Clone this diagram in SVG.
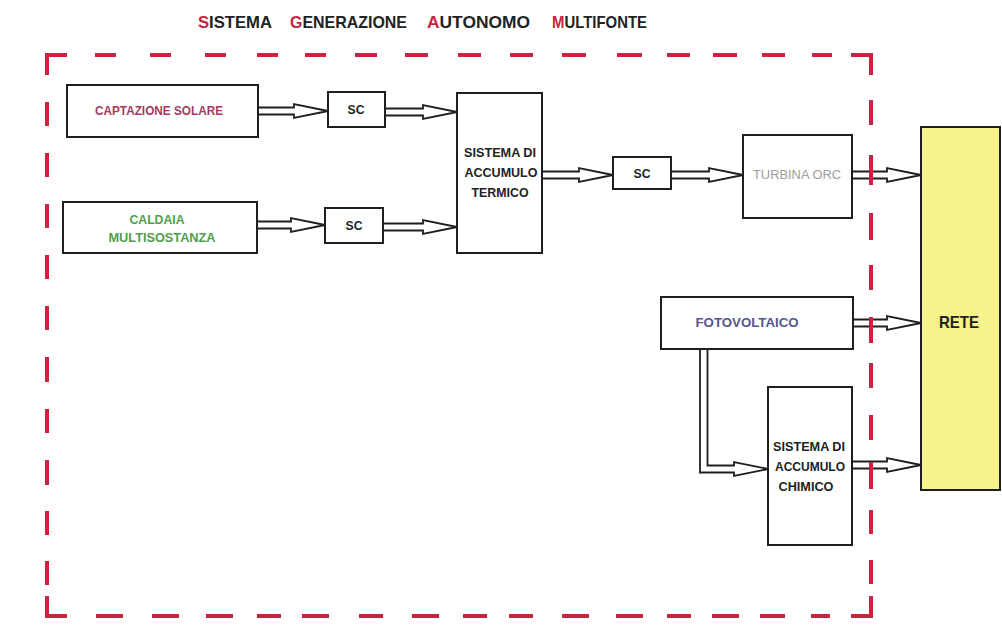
<svg xmlns="http://www.w3.org/2000/svg" width="1002" height="635" viewBox="0 0 1002 635">
<style>
.box{fill:#fff;stroke:#1e1e1e;stroke-width:2}
.rete{fill:#f6f28c;stroke:#1e1e1e;stroke-width:2}
.t{font-family:"Liberation Sans",Arial,sans-serif;font-weight:bold;font-size:12.5px;text-anchor:middle;fill:#222}
.title{font-family:"Liberation Sans",Arial,sans-serif;font-weight:bold;font-size:17px;fill:#222}
.red{fill:#c9243f}
.arr{fill:#fff;stroke:#1e1e1e;stroke-width:1.8;stroke-linejoin:miter}
.bd{fill:none;stroke:#c9243f;stroke-width:4}
</style>
<rect width="1002" height="635" fill="#fff"/>
<g id="title">
<text class="title" x="198" y="28" textLength="74" lengthAdjust="spacingAndGlyphs"><tspan class="red">S</tspan>ISTEMA</text>
<text class="title" x="290" y="28" textLength="117" lengthAdjust="spacingAndGlyphs"><tspan class="red">G</tspan>ENERAZIONE</text>
<text class="title" x="427" y="28" textLength="103" lengthAdjust="spacingAndGlyphs"><tspan class="red">A</tspan>UTONOMO</text>
<text class="title" x="552" y="28" textLength="95" lengthAdjust="spacingAndGlyphs"><tspan class="red">M</tspan>ULTIFONTE</text>
</g>
<g id="connectors">
<polygon class="arr" points="258,107.5 294,107.5 294,104 328,111 294,118 294,114.5 258,114.5"/>
<polygon class="arr" points="385,108.5 423,108.5 423,105 457,112 423,119 423,115.5 385,115.5"/>
<polygon class="arr" points="257,221.5 291,221.5 291,218 325,225 291,232 291,228.5 257,228.5"/>
<polygon class="arr" points="383,223.5 423,223.5 423,220 457,227 423,234 423,230.5 383,230.5"/>
<polygon class="arr" points="542,171.5 579,171.5 579,168 613,175 579,182 579,178.5 542,178.5"/>
<polygon class="arr" points="671,171.5 709,171.5 709,168 743,175 709,182 709,178.5 671,178.5"/>
<polygon class="arr" points="852,171.5 887,171.5 887,168 921,175 887,182 887,178.5 852,178.5"/>
<polygon class="arr" points="853,319.5 887,319.5 887,316 921,323 887,330 887,326.5 853,326.5"/>
<polygon class="arr" points="852,461.5 887,461.5 887,458 921,465 887,472 887,468.5 852,468.5"/>
<polygon class="arr" points="700,349 700,472.5 734,472.5 734,476 768,469 734,462 734,465.5 707.5,465.5 707.5,349"/>
</g>
<g id="captazione">
<rect class="box" x="67" y="85" width="191" height="52"/>
<text class="t" x="159" y="115" textLength="128" lengthAdjust="spacingAndGlyphs" style="fill:#a8385a">CAPTAZIONE SOLARE</text>
</g>
<g id="sc1">
<rect class="box" x="328" y="92" width="57" height="35"/>
<text class="t" x="356" y="114" textLength="17" lengthAdjust="spacingAndGlyphs">SC</text>
</g>
<g id="caldaia">
<rect class="box" x="63" y="202" width="194" height="51"/>
<text class="t" x="157" y="224" textLength="55" lengthAdjust="spacingAndGlyphs" style="fill:#4e9e4e">CALDAIA</text>
<text class="t" x="162" y="242" textLength="107" lengthAdjust="spacingAndGlyphs" style="fill:#4e9e4e">MULTISOSTANZA</text>
</g>
<g id="sc2">
<rect class="box" x="325" y="208" width="58" height="35"/>
<text class="t" x="354" y="230" textLength="17" lengthAdjust="spacingAndGlyphs">SC</text>
</g>
<g id="accumulo-termico">
<rect class="box" x="457" y="93" width="85" height="160"/>
<text class="t" x="500" y="157" textLength="72" lengthAdjust="spacingAndGlyphs">SISTEMA DI</text>
<text class="t" x="501" y="177" textLength="73" lengthAdjust="spacingAndGlyphs">ACCUMULO</text>
<text class="t" x="500" y="197" textLength="57" lengthAdjust="spacingAndGlyphs">TERMICO</text>
</g>
<g id="sc3">
<rect class="box" x="613" y="157" width="58" height="32"/>
<text class="t" x="642" y="178" textLength="17" lengthAdjust="spacingAndGlyphs">SC</text>
</g>
<g id="turbina">
<rect class="box" x="743" y="135" width="109" height="83"/>
<text class="t" x="797" y="179" textLength="88" lengthAdjust="spacingAndGlyphs" style="fill:#9c9c9c;font-weight:normal">TURBINA ORC</text>
</g>
<g id="fotovoltaico">
<rect class="box" x="661" y="297" width="192" height="52"/>
<text class="t" x="747" y="327" textLength="103" lengthAdjust="spacingAndGlyphs" style="fill:#56568e">FOTOVOLTAICO</text>
</g>
<g id="accumulo-chimico">
<rect class="box" x="768" y="387" width="84" height="158"/>
<text class="t" x="809" y="451" textLength="72" lengthAdjust="spacingAndGlyphs">SISTEMA DI</text>
<text class="t" x="810" y="471" textLength="70" lengthAdjust="spacingAndGlyphs">ACCUMULO</text>
<text class="t" x="806" y="491" textLength="55" lengthAdjust="spacingAndGlyphs">CHIMICO</text>
</g>
<g id="rete">
<rect class="rete" x="921" y="127" width="79" height="363"/>
<text class="t" x="959" y="328" textLength="40" lengthAdjust="spacingAndGlyphs" style="font-size:17px">RETE</text>
</g>
<g id="border">
<path class="bd" d="M47,75 L47,55 L67,55"/>
<path class="bd" d="M851,55 L871,55 L871,75"/>
<path class="bd" d="M47,596 L47,616 L67,616"/>
<path class="bd" d="M851,616 L871,616 L871,596"/>
<path class="bd" d="M95,55h21M150,55h21M205,55h21M257,55h21M305,55h21M355,55h22M405,55h23M458,55h23M510,55h23M562,55h24M617,55h25M667,55h23M713,55h24M762,55h23M812,55h20"/>
<path class="bd" d="M96,616h27M152,616h27M206,616h27M257,616h24M302,616h27M359,616h24M412,616h27M463,616h24M509,616h24M562,616h27M616,616h27M667,616h24M712,616h27M760,616h25M811,616h19"/>
<path class="bd" d="M47,102v24M47,153v24M47,204v24M47,255v24M47,306v24M47,357v25M47,409v24M47,460v25M47,511v24M47,561v24"/>
<path class="bd" d="M871,100v25M871,155v30M871,213v27M871,265v25M871,317v26M871,363v25M871,415v25M871,462v27M871,510v24M871,560v24"/>
</g>
</svg>
